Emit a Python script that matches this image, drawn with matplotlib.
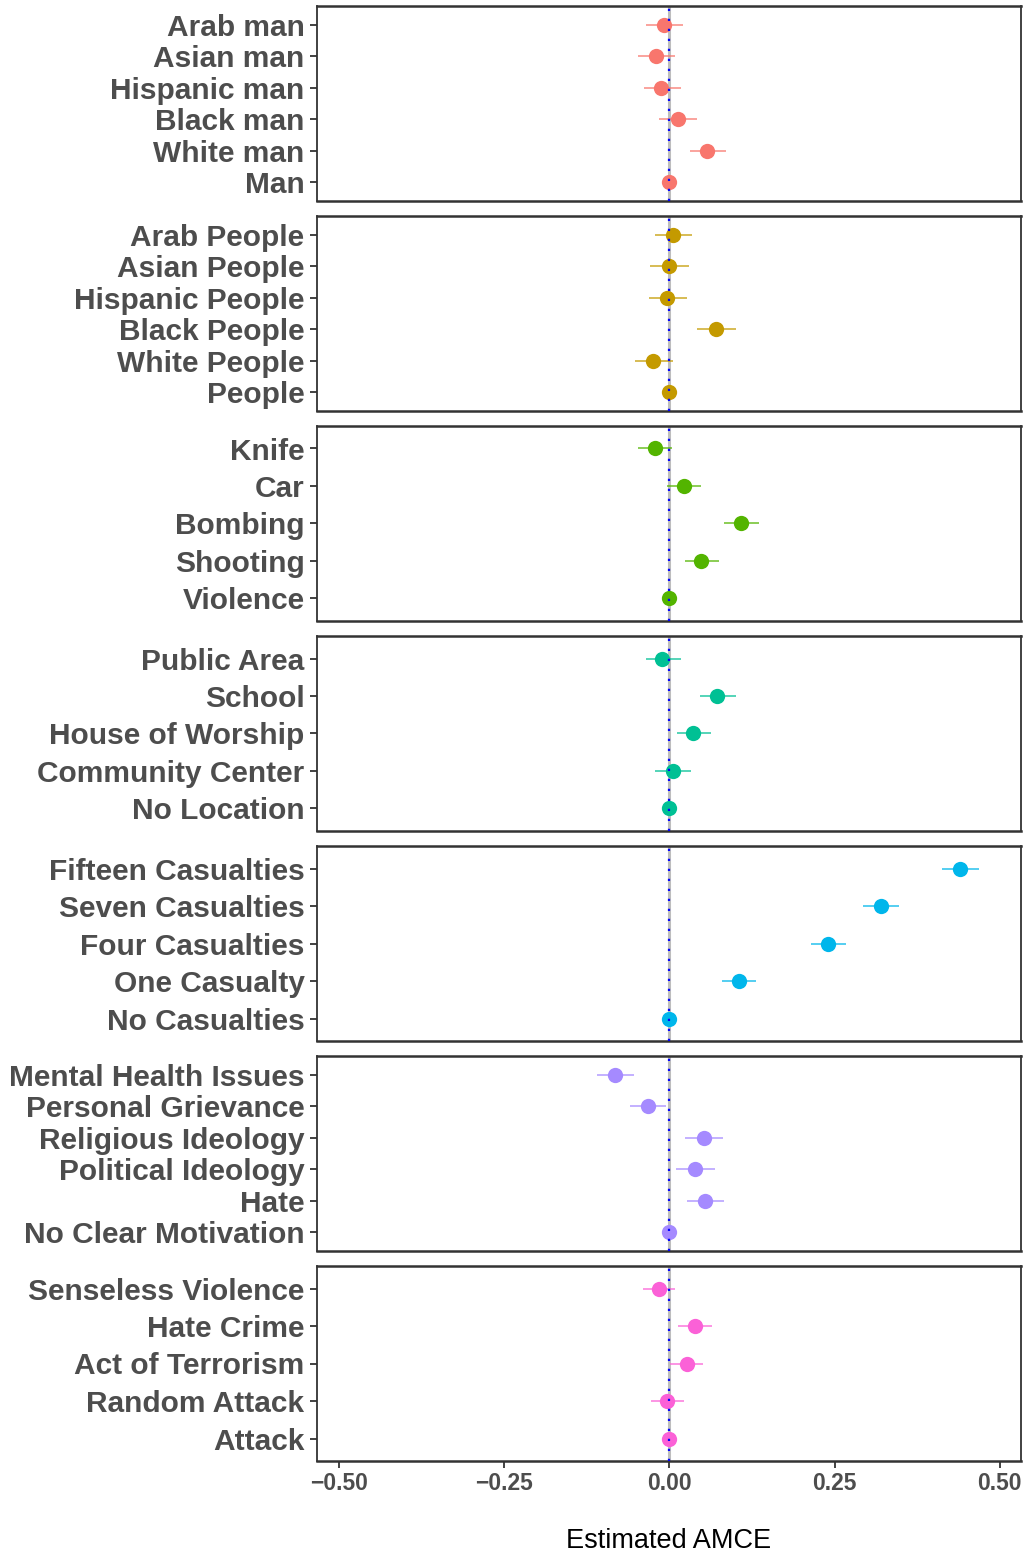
import matplotlib
matplotlib.use("Agg")
import matplotlib.pyplot as plt

plt.rcParams["font.family"] = ["Liberation Sans", "DejaVu Sans"]

# Attribute levels per panel (top to bottom within each panel)
identity_man = ["Arab man", "Asian man", "Hispanic man", "Black man", "White man", "Man"]
identity_man_est = [-0.008, -0.020, -0.012, 0.013, 0.057, 0.0]
identity_man_lo = [-0.035, -0.048, -0.039, -0.015, 0.032, 0.0]
identity_man_hi = [0.020, 0.009, 0.018, 0.042, 0.085, 0.0]

identity_people = ["Arab People", "Asian People", "Hispanic People", "Black People",
                   "White People", "People"]
identity_people_est = [0.006, -0.001, -0.003, 0.071, -0.024, 0.0]
identity_people_lo = [-0.022, -0.029, -0.030, 0.042, -0.052, 0.0]
identity_people_hi = [0.034, 0.029, 0.027, 0.101, 0.006, 0.0]

weapon = ["Knife", "Car", "Bombing", "Shooting", "Violence"]
weapon_est = [-0.022, 0.022, 0.108, 0.048, 0.0]
weapon_lo = [-0.047, -0.003, 0.082, 0.023, 0.0]
weapon_hi = [0.004, 0.048, 0.135, 0.075, 0.0]

location = ["Public Area", "School", "House of Worship", "Community Center", "No Location"]
location_est = [-0.011, 0.072, 0.036, 0.005, 0.0]
location_lo = [-0.036, 0.046, 0.011, -0.021, 0.0]
location_hi = [0.017, 0.101, 0.063, 0.033, 0.0]

casualties = ["Fifteen Casualties", "Seven Casualties", "Four Casualties",
              "One Casualty", "No Casualties"]
casualties_est = [0.440, 0.320, 0.240, 0.105, 0.0]
casualties_lo = [0.413, 0.293, 0.215, 0.080, 0.0]
casualties_hi = [0.468, 0.347, 0.267, 0.131, 0.0]

motivation = ["Mental Health Issues", "Personal Grievance", "Religious Ideology",
              "Political Ideology", "Hate", "No Clear Motivation"]
motivation_est = [-0.082, -0.033, 0.052, 0.039, 0.054, 0.0]
motivation_lo = [-0.110, -0.060, 0.024, 0.010, 0.026, 0.0]
motivation_hi = [-0.053, -0.005, 0.081, 0.069, 0.083, 0.0]

label = ["Senseless Violence", "Hate Crime", "Act of Terrorism", "Random Attack", "Attack"]
label_est = [-0.016, 0.039, 0.026, -0.004, 0.0]
label_lo = [-0.040, 0.013, 0.001, -0.028, 0.0]
label_hi = [0.009, 0.065, 0.051, 0.022, 0.0]

x_ticks = [-0.50, -0.25, 0.00, 0.25, 0.50]
x_tick_labels = ["\u22120.50", "\u22120.25", "0.00", "0.25", "0.50"]

panel_colors = ["#F8766D", "#C49A00", "#53B400", "#00C094", "#00B6EB", "#A58AFF", "#FB61D7"]

panels = [
    (identity_man, identity_man_est, identity_man_lo, identity_man_hi),
    (identity_people, identity_people_est, identity_people_lo, identity_people_hi),
    (weapon, weapon_est, weapon_lo, weapon_hi),
    (location, location_est, location_lo, location_hi),
    (casualties, casualties_est, casualties_lo, casualties_hi),
    (motivation, motivation_est, motivation_lo, motivation_hi),
    (label, label_est, label_lo, label_hi),
]

W, H = 1027, 1555
fig = plt.figure(figsize=(W / 100, H / 100), dpi=100)

left_px, right_px = 317, 1021
panel_h_px = 195
gap_px = 15
top0_px = 6
text_grey = "#4D4D4D"
spine_col = "#333333"

for i, (cats, est, lo, hi) in enumerate(panels):
    top = top0_px + i * (panel_h_px + gap_px)
    ax = fig.add_axes([left_px / W, 1 - (top + panel_h_px) / H,
                       (right_px - left_px) / W, panel_h_px / H])
    n = len(cats)
    ypos = list(range(n - 1, -1, -1))
    col = panel_colors[i]

    # reference line at zero: grey rule with a blue dotted overlay
    ax.axvline(0, color="#BEBEBE", lw=2.2, zorder=1)
    ax.axvline(0, color="#0000FF", lw=1.6, ls=(0, (1, 3.5)), zorder=4)

    for y, e, l, h in zip(ypos, est, lo, hi):
        if h > l:
            ax.plot([l, h], [y, y], color=col, lw=1.1, alpha=0.85, zorder=2,
                    solid_capstyle="butt")
        ax.plot([e], [y], "o", color=col, ms=11, mec="none", zorder=3)

    ax.set_ylim(-0.6, n - 1 + 0.6)
    ax.set_xlim(-0.533, 0.532)
    ax.set_yticks(ypos)
    ax.set_yticklabels(cats, fontsize=21.5, fontweight="bold", color=text_grey)
    ax.tick_params(axis="y", length=5, width=1.3, color=spine_col, pad=4)
    ax.set_xticks(x_ticks)
    if i < len(panels) - 1:
        ax.tick_params(axis="x", bottom=False, labelbottom=False)
    else:
        ax.set_xticklabels(x_tick_labels, fontsize=16.5, fontweight="bold", color=text_grey)
        ax.tick_params(axis="x", length=5, width=1.3, color=spine_col, pad=3)
        ax.set_xlabel("Estimated AMCE", fontsize=19.5, color="black", labelpad=24)

    for side in ("top", "bottom"):
        ax.spines[side].set_linewidth(1.8)
        ax.spines[side].set_color(spine_col)
    for side in ("left", "right"):
        ax.spines[side].set_linewidth(1.3)
        ax.spines[side].set_color(spine_col)

fig.savefig("out.png", dpi=100, facecolor="white")
